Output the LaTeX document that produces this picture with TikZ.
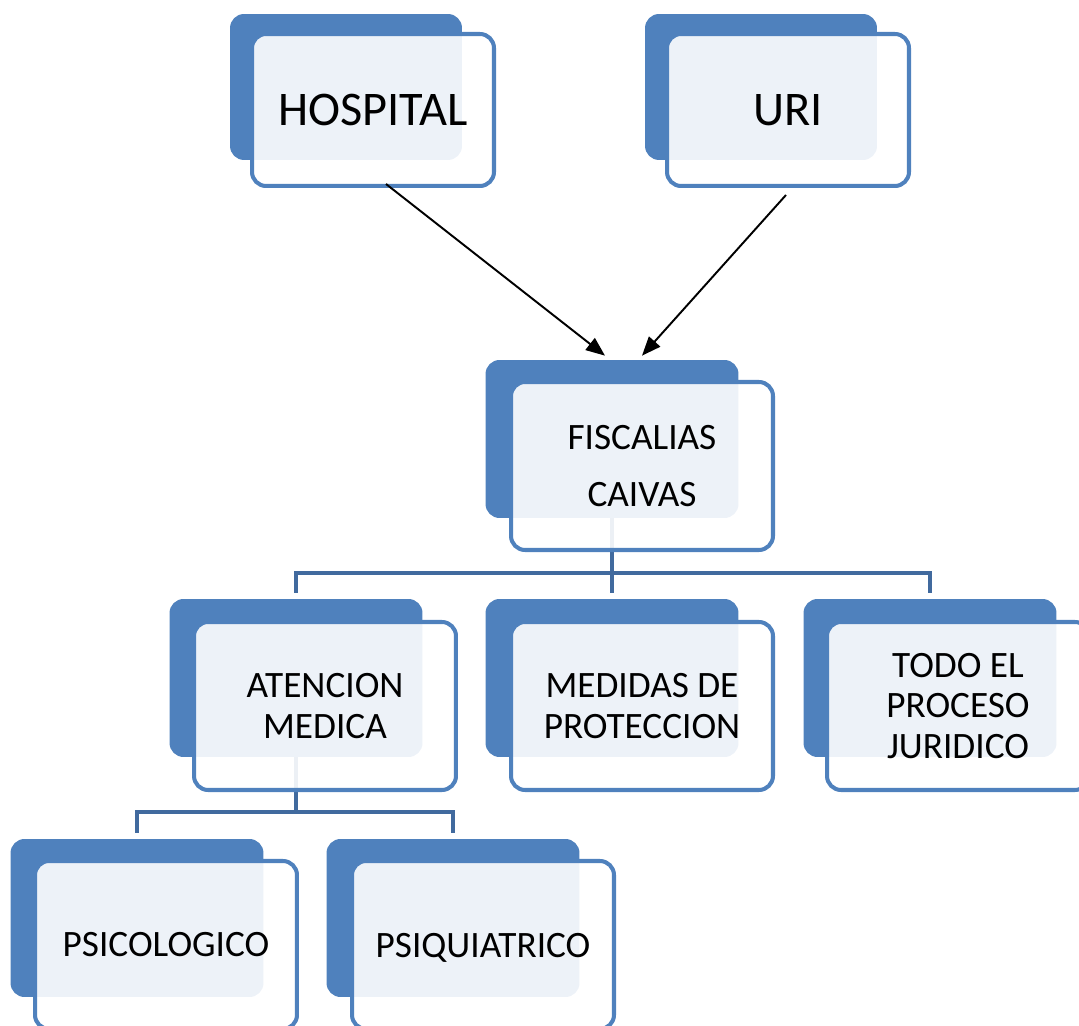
\documentclass[tikz,border=0pt]{standalone}
\usepackage{fontspec}
\setmainfont{Carlito}
\usetikzlibrary{arrows.meta}
\definecolor{cardblue}{HTML}{4F81BD}
\definecolor{linkblue}{HTML}{416A9E}
\begin{document}
\begin{tikzpicture}[x=0.02cm, y=-0.02cm,
  back node/.style={rectangle, rounded corners=0.28cm, fill=cardblue, minimum width=5.06cm, minimum height=3.16cm},
  top back/.style={back node, minimum width=4.64cm, minimum height=2.92cm},
  card node/.style={rectangle, rounded corners=0.28cm, draw=cardblue, line width=2.3pt, fill=white, fill opacity=0.9, text opacity=1, minimum width=5.24cm, minimum height=3.36cm, align=center, font=\fontsize{21.2pt}{22.9pt}\selectfont},
  top card/.style={card node, minimum width=4.84cm, minimum height=3.04cm, font=\fontsize{27.5pt}{32pt}\selectfont},
  link/.style={draw=linkblue, line width=2.3pt, shorten >=0.12cm},
  arrow/.style={-{Triangle[length=0.38cm,width=0.3cm]}, black, line width=1.1pt}]
        \useasboundingbox (0,0) rectangle (1079,1026);

          \node[top back] (hospB) at (346,87) {};
          \node[top back] (uriB) at (761,87) {};
          \node[back node] (fisB) at (612,439) {};
          \node[back node] (atenB) at (296,678) {};
          \node[back node] (medB) at (612,678) {};
          \node[back node] (todoB) at (930,678) {};
          \node[back node] (psicoB) at (137,918) {};
          \node[back node] (psiqB) at (453,918) {};

          \coordinate (bus1) at (612,573);
          \coordinate (bus2) at (296,812);
          \draw[link] (fisB.south) -- (bus1) -| (atenB.north);
          \draw[link] (bus1) -| (todoB.north);
          \draw[link] (bus1) -- (medB.north);
          \draw[link] (atenB.south) -- (bus2) -| (psicoB.north);
          \draw[link] (bus2) -| (psiqB.north);

          \node[top card] (hosp) at (373,110) {HOSPITAL};
          \node[top card] (uri) at (788,110) {URI};
          \node[card node] (fis) at (642,466) {FISCALIAS\\[9.4pt]CAIVAS};
          \node[card node] (aten) at (325,706) {ATENCION\\MEDICA};
          \node[card node] (med) at (642,706) {MEDIDAS DE\\PROTECCION};
          \node[card node] (todo) at (958,706) {TODO EL\\PROCESO\\JURIDICO};
          \node[card node] (psico) at (166,945) {PSICOLOGICO};
          \node[card node, text depth=0pt] (psiq) at (483,945) {PSIQUIATRICO};

          \draw[arrow] ([shift={(13,-4)}]hosp.south) -- ([shift={(-7,-4)}]fisB.north);
          \draw[arrow] ([shift={(-2,7)}]uri.south) -- ([shift={(30,-4)}]fisB.north);

        \end{tikzpicture}
\end{document}
